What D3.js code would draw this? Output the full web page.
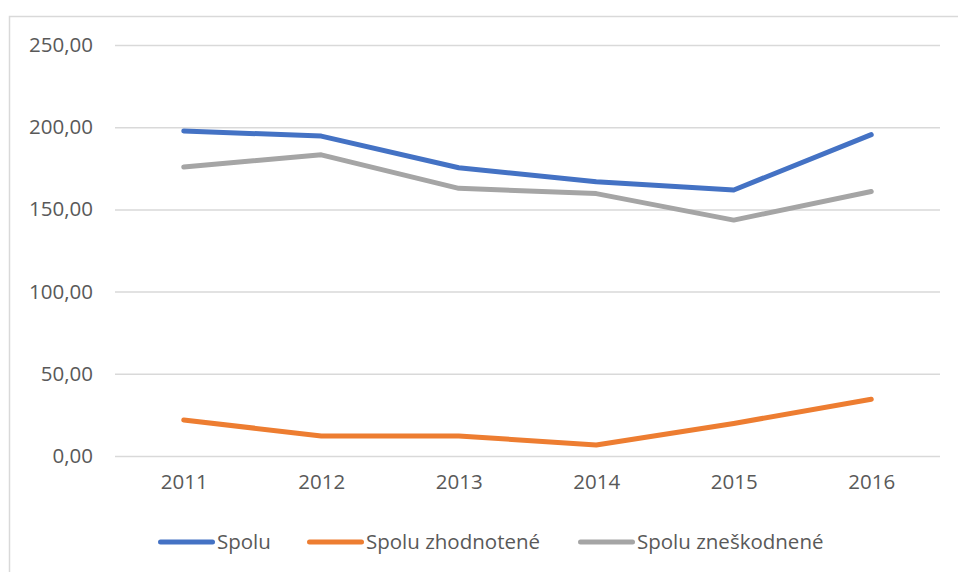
<!DOCTYPE html>
<html>
<head>
<meta charset="utf-8">
<script src="https://cdn.jsdelivr.net/npm/d3@7"></script>
<style>
  body { margin: 0; background: #fff; }
  text { font-family: "Open Sans", sans-serif; fill: #595959; }
</style>
</head>
<body>
<script>
// data
var years = ["2011", "2012", "2013", "2014", "2015", "2016"];
var spolu = [197.7, 194.6, 175.3, 166.8, 161.8, 195.5];
var zhodnotene = [21.9, 12.2, 12.2, 6.7, 19.8, 34.5];
var zneskodnene = [175.8, 183.2, 162.8, 159.6, 143.5, 160.9];
var seriesNames = ["Spolu", "Spolu zhodnotené", "Spolu zneškodnené"];
var yTicks = [0, 50, 100, 150, 200, 250];

var colors = ["#4472C4", "#ED7D31", "#A5A5A5"];
var series = [spolu, zhodnotene, zneskodnene];

var width = 958, height = 572;
var plot = {left: 115, right: 940, top: 45, bottom: 456};

var svg = d3.select("body").append("svg")
    .attr("width", width)
    .attr("height", height);

// chart frame (only top and left edges are visible in the crop)
svg.append("path")
    .attr("d", "M9.5," + height + "V16.5H" + width)
    .attr("fill", "none")
    .attr("stroke", "#d9d9d9")
    .attr("stroke-width", 1.5);

var x = d3.scalePoint()
    .domain(years)
    .range([plot.left, plot.right])
    .padding(0.5);

var y = d3.scaleLinear()
    .domain([0, 250])
    .range([plot.bottom, plot.top]);

var locale = d3.formatLocale({decimal: ",", thousands: " ", grouping: [3], currency: ["", ""]});
var fmt = locale.format(".2f");

// gridlines + y labels
var yAxis = d3.axisLeft(y)
    .tickValues(yTicks)
    .tickSize(-(plot.right - plot.left))
    .tickPadding(22)
    .tickFormat(fmt);

var gy = svg.append("g")
    .attr("transform", "translate(" + plot.left + ",0)")
    .call(yAxis);
gy.select(".domain").remove();
gy.selectAll(".tick line")
    .attr("stroke", "#d9d9d9")
    .attr("stroke-width", 1.5);
gy.selectAll(".tick text")
    .attr("font-size", "20.5px")
    .style("font-family", "'Open Sans', sans-serif");

// x labels
var xAxis = d3.axisBottom(x).tickSize(0).tickPadding(18);
var gx = svg.append("g")
    .attr("transform", "translate(0," + plot.bottom + ")")
    .call(xAxis);
gx.select(".domain").remove();
gx.selectAll(".tick text")
    .attr("font-size", "20.5px")
    .style("font-family", "'Open Sans', sans-serif");

// lines
var line = d3.line()
    .x(function (d, i) { return x(years[i]); })
    .y(function (d) { return y(d); });

series.forEach(function (s, k) {
    svg.append("path")
        .datum(s)
        .attr("d", line)
        .attr("fill", "none")
        .attr("stroke", colors[k])
        .attr("stroke-width", 5)
        .attr("stroke-linecap", "round")
        .attr("stroke-linejoin", "round");
});

// legend
var legendX = [158, 307, 578];
var legendY = 542;
var legend = svg.append("g");
seriesNames.forEach(function (name, k) {
    legend.append("line")
        .attr("x1", legendX[k] + 2.5)
        .attr("x2", legendX[k] + 54.5)
        .attr("y1", legendY)
        .attr("y2", legendY)
        .attr("stroke", colors[k])
        .attr("stroke-width", 5)
        .attr("stroke-linecap", "round");
    legend.append("text")
        .attr("x", legendX[k] + 59)
        .attr("y", legendY)
        .attr("dy", "0.36em")
        .attr("font-size", "20.5px")
        .text(name);
});
</script>
</body>
</html>
